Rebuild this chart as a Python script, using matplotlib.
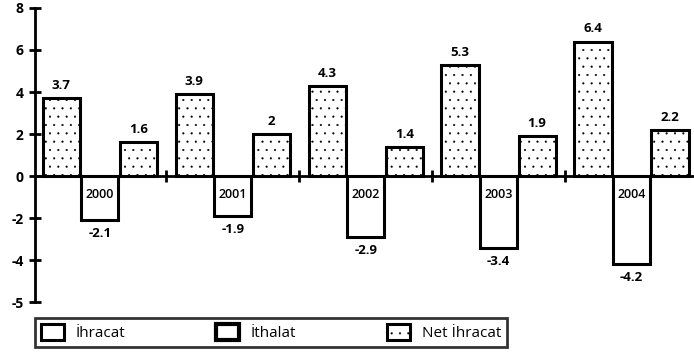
import numpy as np
import matplotlib.pyplot as plt
from matplotlib.patches import Patch

years = ["2000", "2001", "2002", "2003", "2004"]
ihracat = [3.7, 3.9, 4.3, 5.3, 6.4]
ithalat = [-2.1, -1.9, -2.9, -3.4, -4.2]
net_ihracat = [1.6, 2, 1.4, 1.9, 2.2]
ytick_vals = [8, 6, 4, 2, 0, -2, -4, -6]
ytick_labels = ["8", "6", "4", "2", "0", "-2", "-4", "-5"]

plt.rcParams["font.family"] = ["Open Sans", "DejaVu Sans"]
plt.rcParams["hatch.linewidth"] = 0.3

fig = plt.figure(figsize=(6.94, 3.61), dpi=100)
ax = fig.add_axes([0.05, 0.163, 0.95, 0.815])

x = np.arange(len(years))
w = 0.28
off = 0.29
lw = 2.2

ax.bar(x - off, ihracat, w, facecolor="white", edgecolor="black", linewidth=lw, hatch="..")
ax.bar(x, ithalat, w, facecolor="white", edgecolor="black", linewidth=lw)
ax.bar(x + off, net_ihracat, w, facecolor="white", edgecolor="black", linewidth=lw, hatch="..")

for xi, v in zip(x - off, ihracat):
    ax.text(xi, v + 0.6, str(v), ha="center", va="center", fontsize=9.5, fontweight="bold")
for xi, v in zip(x + off, net_ihracat):
    ax.text(xi, v + 0.6, str(v), ha="center", va="center", fontsize=9.5, fontweight="bold")
for xi, v, yr in zip(x, ithalat, years):
    ax.text(xi, v - 0.65, str(v), ha="center", va="center", fontsize=9.5, fontweight="bold")
    ax.text(xi, -0.9, yr, ha="center", va="center", fontsize=9, fontweight="semibold")

ax.set_xlim(-0.49, 4.47)
ax.set_ylim(-6, 8)
ax.set_yticks(ytick_vals)
ax.set_yticklabels(ytick_labels, fontsize=10, fontweight="bold")
ax.tick_params(axis="y", direction="inout", length=9, width=2)

ax.spines["top"].set_visible(False)
ax.spines["right"].set_visible(False)
ax.spines["left"].set_linewidth(2)
ax.spines["bottom"].set_position(("data", 0))
ax.spines["bottom"].set_linewidth(2)
ax.set_xticks(x[:-1] + 0.5)
ax.set_xticklabels([])
ax.tick_params(axis="x", direction="inout", length=8, width=2)

handles = [
    Patch(facecolor="white", edgecolor="black", linewidth=lw),
    Patch(facecolor="white", edgecolor="black", linewidth=lw + 0.8),
    Patch(facecolor="white", edgecolor="black", linewidth=lw, hatch=".."),
]
leg = fig.legend(handles, ["İhracat", "İthalat", "Net İhracat"], ncol=3,
                 loc="lower left", bbox_to_anchor=(0.039, 0.017, 0.703, 0.10),
                 mode="expand", fancybox=False, fontsize=11,
                 handlelength=1.5, handleheight=1.3, borderpad=0.4)
leg.get_frame().set_edgecolor("black")
leg.get_frame().set_linewidth(2)

fig.savefig("out.png", dpi=100)
